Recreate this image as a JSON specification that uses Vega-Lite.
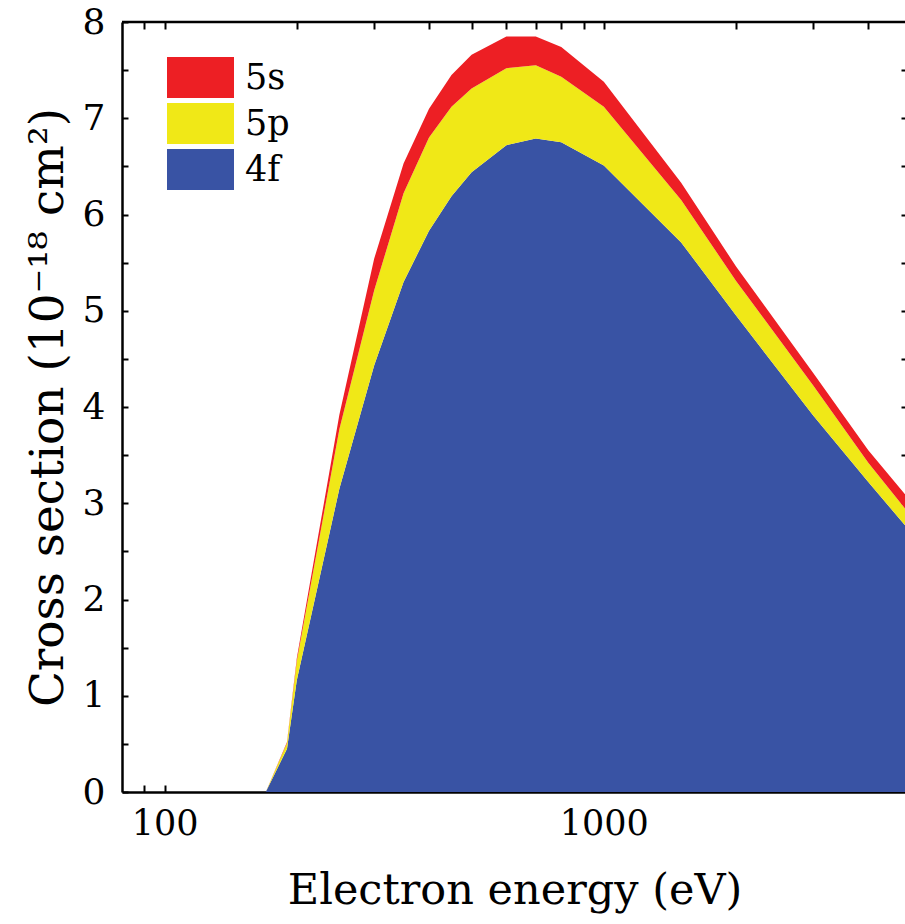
{
  "$schema": "https://vega.github.io/schema/vega-lite/v6.json",
  "width": 785,
  "height": 770,
  "padding": {"left": 24, "top": 4, "right": 0, "bottom": 20},
  "autosize": {"type": "pad"},
  "background": "white",
  "config": {
    "view": {"stroke": null},
    "font": "DejaVu Serif",
    "axis": {
      "labelFont": "DejaVu Serif",
      "titleFont": "DejaVu Serif",
      "labelColor": "black",
      "titleColor": "black",
      "labelFontWeight": "normal",
      "titleFontWeight": "normal",
      "domainColor": "black",
      "domainWidth": 2.5,
      "tickColor": "black",
      "tickWidth": 2,
      "grid": false
    }
  },
  "datasets": {
    "cs": [
      {"energy": 170, "shell": "4f", "value": 0},
      {"energy": 170, "shell": "5p", "value": 0},
      {"energy": 170, "shell": "5s", "value": 0},
      {"energy": 190, "shell": "4f", "value": 0.45},
      {"energy": 190, "shell": "5p", "value": 0.06},
      {"energy": 190, "shell": "5s", "value": 0.01},
      {"energy": 200, "shell": "4f", "value": 1.16},
      {"energy": 200, "shell": "5p", "value": 0.2},
      {"energy": 200, "shell": "5s", "value": 0.03},
      {"energy": 250, "shell": "4f", "value": 3.15},
      {"energy": 250, "shell": "5p", "value": 0.62},
      {"energy": 250, "shell": "5s", "value": 0.15},
      {"energy": 300, "shell": "4f", "value": 4.43},
      {"energy": 300, "shell": "5p", "value": 0.78},
      {"energy": 300, "shell": "5s", "value": 0.33},
      {"energy": 350, "shell": "4f", "value": 5.3},
      {"energy": 350, "shell": "5p", "value": 0.92},
      {"energy": 350, "shell": "5s", "value": 0.31},
      {"energy": 400, "shell": "4f", "value": 5.83},
      {"energy": 400, "shell": "5p", "value": 0.97},
      {"energy": 400, "shell": "5s", "value": 0.3},
      {"energy": 450, "shell": "4f", "value": 6.19},
      {"energy": 450, "shell": "5p", "value": 0.93},
      {"energy": 450, "shell": "5s", "value": 0.33},
      {"energy": 500, "shell": "4f", "value": 6.44},
      {"energy": 500, "shell": "5p", "value": 0.87},
      {"energy": 500, "shell": "5s", "value": 0.35},
      {"energy": 600, "shell": "4f", "value": 6.72},
      {"energy": 600, "shell": "5p", "value": 0.8},
      {"energy": 600, "shell": "5s", "value": 0.33},
      {"energy": 700, "shell": "4f", "value": 6.79},
      {"energy": 700, "shell": "5p", "value": 0.76},
      {"energy": 700, "shell": "5s", "value": 0.3},
      {"energy": 800, "shell": "4f", "value": 6.75},
      {"energy": 800, "shell": "5p", "value": 0.68},
      {"energy": 800, "shell": "5s", "value": 0.31},
      {"energy": 1000, "shell": "4f", "value": 6.51},
      {"energy": 1000, "shell": "5p", "value": 0.61},
      {"energy": 1000, "shell": "5s", "value": 0.26},
      {"energy": 1500, "shell": "4f", "value": 5.71},
      {"energy": 1500, "shell": "5p", "value": 0.44},
      {"energy": 1500, "shell": "5s", "value": 0.18},
      {"energy": 2000, "shell": "4f", "value": 4.95},
      {"energy": 2000, "shell": "5p", "value": 0.36},
      {"energy": 2000, "shell": "5s", "value": 0.15},
      {"energy": 3000, "shell": "4f", "value": 3.91},
      {"energy": 3000, "shell": "5p", "value": 0.31},
      {"energy": 3000, "shell": "5s", "value": 0.13},
      {"energy": 4000, "shell": "4f", "value": 3.22},
      {"energy": 4000, "shell": "5p", "value": 0.2},
      {"energy": 4000, "shell": "5s", "value": 0.13},
      {"energy": 5000, "shell": "4f", "value": 2.7},
      {"energy": 5000, "shell": "5p", "value": 0.17},
      {"energy": 5000, "shell": "5s", "value": 0.15}
    ]
  },
  "layer": [
    {
      "data": {"name": "cs"},
      "mark": {"type": "area", "clip": true, "opacity": 1},
      "encoding": {
        "x": {
          "field": "energy",
          "type": "quantitative",
          "scale": {"type": "log", "domain": [80, 4900]},
          "axis": {
            "orient": "bottom",
            "title": "Electron energy (eV)",
            "values": [90, 100, 200, 300, 400, 500, 600, 700, 800, 900, 1000, 2000, 3000, 4000],
            "format": "d",
            "labelExpr": "datum.value == 100 || datum.value == 1000 ? datum.label : ''",
            "labelOverlap": false,
            "labelFontSize": 35,
            "labelPadding": 21,
            "titleFontSize": 43,
            "titlePadding": 28,
            "tickSize": -7,
            "encode": {"ticks": {"update": {"y2": {"signal": "datum.value == 100 || datum.value == 1000 ? -14 : -7"}}}}
          }
        },
        "y": {
          "field": "value",
          "type": "quantitative",
          "stack": "zero",
          "scale": {"domain": [0, 8]},
          "axis": {
            "orient": "left",
            "title": "Cross section (10⁻¹⁸ cm²)",
            "values": [0, 0.5, 1, 1.5, 2, 2.5, 3, 3.5, 4, 4.5, 5, 5.5, 6, 6.5, 7, 7.5, 8],
            "labelExpr": "datum.value % 1 == 0 ? format(datum.value, 'd') : ''",
            "labelOverlap": false,
            "labelFontSize": 36,
            "labelPadding": 23,
            "titleFontSize": 47,
            "titlePadding": 10,
            "tickSize": -6,
            "encode": {"ticks": {"update": {"x2": {"signal": "datum.value % 1 == 0 ? 12 : 6"}}}}
          }
        },
        "color": {
          "field": "shell",
          "type": "nominal",
          "scale": {"domain": ["5s", "5p", "4f"], "range": ["#ED1F24", "#F0E817", "#3953A4"]},
          "legend": {
            "orient": "none",
            "legendX": 58,
            "legendY": 35,
            "title": null,
            "symbolType": "M-1.634,-1H1.634V1H-1.634Z",
            "symbolSize": 1681,
            "symbolStrokeWidth": 0,
            "symbolOpacity": 1,
            "labelFont": "DejaVu Serif",
            "labelFontSize": 35,
            "labelColor": "black",
            "labelOffset": 24,
            "rowPadding": 5,
            "padding": 0
          }
        },
        "order": {"field": "shell", "sort": "ascending"}
      }
    },
    {
      "data": {"values": [{}]},
      "mark": {"type": "rule", "color": "black", "strokeWidth": 2.5},
      "encoding": {
        "x": {
          "datum": 80,
          "type": "quantitative",
          "scale": {"type": "log", "domain": [80, 4900]},
          "axis": {
            "orient": "top",
            "title": null,
            "values": [90, 100, 200, 300, 400, 500, 600, 700, 800, 900, 1000, 2000, 3000, 4000],
            "labels": false,
            "domain": false,
            "tickSize": -7,
            "encode": {"ticks": {"update": {"y2": {"signal": "datum.value == 100 || datum.value == 1000 ? 14 : 7"}}}}
          }
        },
        "x2": {"datum": 4900},
        "y": {
          "datum": 8,
          "type": "quantitative",
          "scale": {"domain": [0, 8]},
          "axis": {
            "orient": "right",
            "title": null,
            "values": [0.5, 1, 1.5, 2, 2.5, 3, 3.5, 4, 4.5, 5, 5.5, 6, 6.5, 7, 7.5],
            "labels": false,
            "domain": false,
            "tickSize": -6,
            "encode": {"ticks": {"update": {"x2": {"signal": "datum.value % 1 == 0 ? -12 : -6"}}}}
          }
        }
      }
    }
  ],
  "resolve": {"axis": {"x": "independent", "y": "independent"}}
}
